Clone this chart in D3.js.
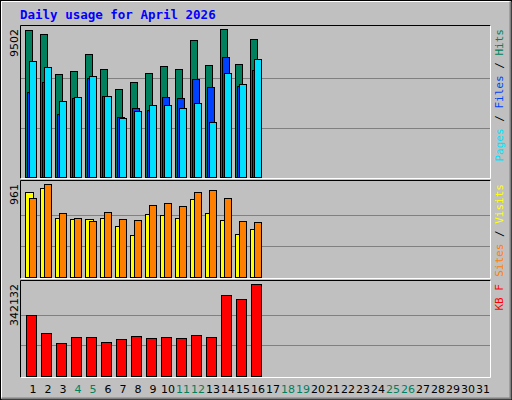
<!DOCTYPE html>
<html><head><meta charset="utf-8">
<script src="https://cdn.jsdelivr.net/npm/d3@7"></script>
<style>body{margin:0;background:#fff}</style>
</head><body><div class="chart"></div>
<script>
const days = d3.range(1, 32);
const weekend = [4, 5, 11, 12, 18, 19, 25, 26];
const hits = [9438, 9181, 6613, 6805, 7897, 6934, 5650, 6099, 6677, 7126, 6934, 8796, 7191, 9502, 7255, 8860];
const files = [5457, 6099, 4045, 5072, 6356, 5200, 3852, 4430, 4301, 5136, 5072, 6292, 5778, 7704, 5842, 6869];
const pages = [7447, 7062, 4879, 5136, 6484, 5200, 3788, 4237, 4622, 4622, 4430, 4751, 3531, 6677, 5971, 7576];
const visits = [883, 924, 610, 600, 600, 610, 529, 438, 651, 641, 610, 803, 661, 590, 448, 499];
const sites = [813, 961, 661, 610, 580, 671, 600, 590, 742, 762, 732, 883, 904, 813, 580, 570];
const kbytes = [226800, 161300, 121300, 146800, 146800, 124900, 135900, 150400, 139500, 146800, 143100, 154000, 146800, 299600, 285000, 342132];

const svg = d3.select('.chart').append('svg').attr('width', 512).attr('height', 400)
  .style('font-family', 'DejaVu Sans Mono');

// outer frame
svg.append('rect').attr('x', 0).attr('y', 0).attr('width', 512).attr('height', 400).attr('fill', '#c0c0c0');
svg.append('rect').attr('x', 0.5).attr('y', 0.5).attr('width', 511).attr('height', 399).attr('fill', 'none').attr('stroke', '#000');
svg.append('path').attr('d', 'M1.5,398.5V1.5H510.5').attr('stroke', '#fff').attr('fill', 'none');
svg.append('path').attr('d', 'M1.5,398.5H510.5V1.5').attr('stroke', '#808080').attr('fill', 'none').attr('stroke-width', 2);

svg.append('text').attr('x', 20).attr('y', 19).attr('fill', '#0000ff')
  .attr('font-weight', 'bold').attr('font-size', 12.5).text('Daily usage for April 2026');

const x = d3.scaleLinear().domain([1, 32]).range([25, 490]);

function panel(y0, y1, max, label, legend) {
  svg.append('path').attr('d', `M20.5,${y1 + 0.5}V${y0 + 0.5}H490.5`).attr('stroke', '#000').attr('fill', 'none');
  svg.append('path').attr('d', `M20.5,${y1 + 0.5}H490.5V${y0 + 0.5}`).attr('stroke', '#fff').attr('fill', 'none');
  const top = y0 + (y0 === 25 ? 4 : 4);
  const y = d3.scaleLinear().domain([0, max]).range([y1 - 1, top]);
  [max / 3, 2 * max / 3].forEach((v) => {
    svg.append('line').attr('x1', 21).attr('x2', 490).attr('y1', Math.round(y(v)) + 0.5).attr('y2', Math.round(y(v)) + 0.5)
      .attr('stroke', '#808080');
  });
  svg.append('text').attr('transform', `translate(18,${top}) rotate(-90)`).attr('text-anchor', 'end')
    .attr('font-size', 11).attr('font-family', 'DejaVu Sans').text(label);
  const lg = svg.append('text').attr('transform', `translate(503,${top}) rotate(-90)`).attr('text-anchor', 'end')
    .attr('font-size', 11);
  legend.forEach((l, i) => {
    if (i) lg.append('tspan').attr('fill', '#000').text(' / ');
    lg.append('tspan').attr('fill', l[1]).text(l[0]);
  });
  return y;
}

function bars(y, data, colour, dx, w) {
  svg.append('g').selectAll('rect').data(data).join('rect')
    .attr('x', (d, i) => x(i + 1) + dx + 0.5).attr('y', (d) => Math.round(y(d)) + 0.5)
    .attr('width', w).attr('height', (d) => y(0) - Math.round(y(d)))
    .attr('fill', colour).attr('stroke', '#000');
}

const y1 = panel(25, 178, 9502, '9502', [['Hits', '#00805c'], ['Files', '#0040ff'], ['Pages', '#00e0ff']].reverse());
bars(y1, hits, '#00805c', 0, 7);
bars(y1, files, '#0040ff', 2, 7);
bars(y1, pages, '#00e0ff', 4, 7);

const y2 = panel(180, 278, 961, '961', [['Visits', '#ffff00'], ['Sites', '#ff8000']].reverse());
bars(y2, visits, '#ffff00', 0, 8);
bars(y2, sites, '#ff8000', 4, 7);

const y3 = panel(280, 377, 342132, '342132', [['KB F', '#ff0000']]);
bars(y3, kbytes, '#ff0000', 1, 10);

svg.append('g').selectAll('text').data(days).join('text')
  .attr('x', (d) => x(d) + 8).attr('y', 393).attr('text-anchor', 'middle')
  .attr('font-size', 11).attr('font-family', 'DejaVu Sans')
  .attr('fill', (d) => weekend.includes(d) ? '#00805c' : '#000').text((d) => d);
</script></body></html>
